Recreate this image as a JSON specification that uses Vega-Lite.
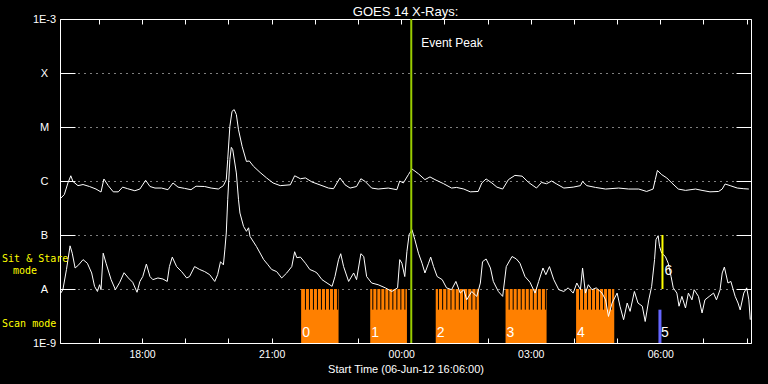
{
  "$schema": "https://vega.github.io/schema/vega-lite/v6.json",
  "width": 691,
  "height": 324,
  "autosize": "none",
  "padding": {"left": 60, "top": 19, "right": 17, "bottom": 41},
  "background": "black",
  "config": {
    "view": {"stroke": "white", "strokeWidth": 1},
    "font": "Liberation Sans"
  },
  "title": {"text": "GOES 14 X-Rays:", "color": "white", "fontSize": 13, "fontWeight": "normal", "font": "Liberation Sans", "offset": -6, "anchor": "middle"},
  "datasets": {
    "flux": [
      {"ch": "long", "t": "2012-06-06T16:07", "f": 4.8e-7},
      {"ch": "long", "t": "2012-06-06T16:12", "f": 5.6e-7},
      {"ch": "long", "t": "2012-06-06T16:17", "f": 9.2e-7},
      {"ch": "long", "t": "2012-06-06T16:21", "f": 1.25e-6},
      {"ch": "long", "t": "2012-06-06T16:24", "f": 9.8e-7},
      {"ch": "long", "t": "2012-06-06T16:31", "f": 8.2e-7},
      {"ch": "long", "t": "2012-06-06T16:38", "f": 8.6e-7},
      {"ch": "long", "t": "2012-06-06T16:47", "f": 7.9e-7},
      {"ch": "long", "t": "2012-06-06T16:56", "f": 7.1e-7},
      {"ch": "long", "t": "2012-06-06T17:03", "f": 6.25e-7},
      {"ch": "long", "t": "2012-06-06T17:07", "f": 1.09e-6},
      {"ch": "long", "t": "2012-06-06T17:13", "f": 8.2e-7},
      {"ch": "long", "t": "2012-06-06T17:20", "f": 6.3e-7},
      {"ch": "long", "t": "2012-06-06T17:27", "f": 6.3e-7},
      {"ch": "long", "t": "2012-06-06T17:33", "f": 7.7e-7},
      {"ch": "long", "t": "2012-06-06T17:40", "f": 7.2e-7},
      {"ch": "long", "t": "2012-06-06T17:50", "f": 6.6e-7},
      {"ch": "long", "t": "2012-06-06T17:57", "f": 7.1e-7},
      {"ch": "long", "t": "2012-06-06T18:05", "f": 1.03e-6},
      {"ch": "long", "t": "2012-06-06T18:11", "f": 7.9e-7},
      {"ch": "long", "t": "2012-06-06T18:18", "f": 7.4e-7},
      {"ch": "long", "t": "2012-06-06T18:27", "f": 7.4e-7},
      {"ch": "long", "t": "2012-06-06T18:36", "f": 6.9e-7},
      {"ch": "long", "t": "2012-06-06T18:43", "f": 9.2e-7},
      {"ch": "long", "t": "2012-06-06T18:50", "f": 7.7e-7},
      {"ch": "long", "t": "2012-06-06T18:59", "f": 7.3e-7},
      {"ch": "long", "t": "2012-06-06T19:08", "f": 6.9e-7},
      {"ch": "long", "t": "2012-06-06T19:15", "f": 8.0e-7},
      {"ch": "long", "t": "2012-06-06T19:27", "f": 7.9e-7},
      {"ch": "long", "t": "2012-06-06T19:36", "f": 7.4e-7},
      {"ch": "long", "t": "2012-06-06T19:46", "f": 7.1e-7},
      {"ch": "long", "t": "2012-06-06T19:53", "f": 8.2e-7},
      {"ch": "long", "t": "2012-06-06T19:57", "f": 1.06e-6},
      {"ch": "long", "t": "2012-06-06T19:59", "f": 2.5e-6},
      {"ch": "long", "t": "2012-06-06T20:02", "f": 1.03e-5},
      {"ch": "long", "t": "2012-06-06T20:05", "f": 1.95e-5},
      {"ch": "long", "t": "2012-06-06T20:08", "f": 2.1e-5},
      {"ch": "long", "t": "2012-06-06T20:11", "f": 1.7e-5},
      {"ch": "long", "t": "2012-06-06T20:14", "f": 8.9e-6},
      {"ch": "long", "t": "2012-06-06T20:19", "f": 4.4e-6},
      {"ch": "long", "t": "2012-06-06T20:25", "f": 2.3e-6},
      {"ch": "long", "t": "2012-06-06T20:29", "f": 2.35e-6},
      {"ch": "long", "t": "2012-06-06T20:35", "f": 1.86e-6},
      {"ch": "long", "t": "2012-06-06T20:44", "f": 1.44e-6},
      {"ch": "long", "t": "2012-06-06T20:53", "f": 1.14e-6},
      {"ch": "long", "t": "2012-06-06T21:02", "f": 9.2e-7},
      {"ch": "long", "t": "2012-06-06T21:12", "f": 8.2e-7},
      {"ch": "long", "t": "2012-06-06T21:26", "f": 8.5e-7},
      {"ch": "long", "t": "2012-06-06T21:32", "f": 1.25e-6},
      {"ch": "long", "t": "2012-06-06T21:40", "f": 1.1e-6},
      {"ch": "long", "t": "2012-06-06T21:47", "f": 1.14e-6},
      {"ch": "long", "t": "2012-06-06T21:56", "f": 9.6e-7},
      {"ch": "long", "t": "2012-06-06T22:10", "f": 8.2e-7},
      {"ch": "long", "t": "2012-06-06T22:19", "f": 7.4e-7},
      {"ch": "long", "t": "2012-06-06T22:26", "f": 7.2e-7},
      {"ch": "long", "t": "2012-06-06T22:35", "f": 1.14e-6},
      {"ch": "long", "t": "2012-06-06T22:42", "f": 8.5e-7},
      {"ch": "long", "t": "2012-06-06T22:49", "f": 7.4e-7},
      {"ch": "long", "t": "2012-06-06T22:58", "f": 7.9e-7},
      {"ch": "long", "t": "2012-06-06T23:04", "f": 1.1e-6},
      {"ch": "long", "t": "2012-06-06T23:10", "f": 9.8e-7},
      {"ch": "long", "t": "2012-06-06T23:19", "f": 7.4e-7},
      {"ch": "long", "t": "2012-06-06T23:28", "f": 7.1e-7},
      {"ch": "long", "t": "2012-06-06T23:42", "f": 7.4e-7},
      {"ch": "long", "t": "2012-06-06T23:54", "f": 6.9e-7},
      {"ch": "long", "t": "2012-06-06T23:58", "f": 1.0e-6},
      {"ch": "long", "t": "2012-06-07T00:03", "f": 9.2e-7},
      {"ch": "long", "t": "2012-06-07T00:10", "f": 1.31e-6},
      {"ch": "long", "t": "2012-06-07T00:15", "f": 1.67e-6},
      {"ch": "long", "t": "2012-06-07T00:24", "f": 1.36e-6},
      {"ch": "long", "t": "2012-06-07T00:33", "f": 1.06e-6},
      {"ch": "long", "t": "2012-06-07T00:40", "f": 1.19e-6},
      {"ch": "long", "t": "2012-06-07T00:47", "f": 1.06e-6},
      {"ch": "long", "t": "2012-06-07T00:59", "f": 8.9e-7},
      {"ch": "long", "t": "2012-06-07T01:10", "f": 7.4e-7},
      {"ch": "long", "t": "2012-06-07T01:17", "f": 7.6e-7},
      {"ch": "long", "t": "2012-06-07T01:27", "f": 7.1e-7},
      {"ch": "long", "t": "2012-06-07T01:36", "f": 6.3e-7},
      {"ch": "long", "t": "2012-06-07T01:47", "f": 6.4e-7},
      {"ch": "long", "t": "2012-06-07T01:52", "f": 9.2e-7},
      {"ch": "long", "t": "2012-06-07T01:58", "f": 1.09e-6},
      {"ch": "long", "t": "2012-06-07T02:06", "f": 9.2e-7},
      {"ch": "long", "t": "2012-06-07T02:13", "f": 7.7e-7},
      {"ch": "long", "t": "2012-06-07T02:21", "f": 7.1e-7},
      {"ch": "long", "t": "2012-06-07T02:29", "f": 1.06e-6},
      {"ch": "long", "t": "2012-06-07T02:38", "f": 1.27e-6},
      {"ch": "long", "t": "2012-06-07T02:48", "f": 1.23e-6},
      {"ch": "long", "t": "2012-06-07T02:57", "f": 9.4e-7},
      {"ch": "long", "t": "2012-06-07T03:08", "f": 7.4e-7},
      {"ch": "long", "t": "2012-06-07T03:15", "f": 9.4e-7},
      {"ch": "long", "t": "2012-06-07T03:22", "f": 8.9e-7},
      {"ch": "long", "t": "2012-06-07T03:29", "f": 1.0e-6},
      {"ch": "long", "t": "2012-06-07T03:36", "f": 8.8e-7},
      {"ch": "long", "t": "2012-06-07T03:46", "f": 7.4e-7},
      {"ch": "long", "t": "2012-06-07T03:59", "f": 7.7e-7},
      {"ch": "long", "t": "2012-06-07T04:09", "f": 8.2e-7},
      {"ch": "long", "t": "2012-06-07T04:12", "f": 9.8e-7},
      {"ch": "long", "t": "2012-06-07T04:18", "f": 8.2e-7},
      {"ch": "long", "t": "2012-06-07T04:30", "f": 7.6e-7},
      {"ch": "long", "t": "2012-06-07T04:44", "f": 7.1e-7},
      {"ch": "long", "t": "2012-06-07T05:02", "f": 7.4e-7},
      {"ch": "long", "t": "2012-06-07T05:16", "f": 7.1e-7},
      {"ch": "long", "t": "2012-06-07T05:30", "f": 7.1e-7},
      {"ch": "long", "t": "2012-06-07T05:41", "f": 6.4e-7},
      {"ch": "long", "t": "2012-06-07T05:50", "f": 7.1e-7},
      {"ch": "long", "t": "2012-06-07T05:53", "f": 1.06e-6},
      {"ch": "long", "t": "2012-06-07T05:56", "f": 1.57e-6},
      {"ch": "long", "t": "2012-06-07T06:02", "f": 1.31e-6},
      {"ch": "long", "t": "2012-06-07T06:09", "f": 1.14e-6},
      {"ch": "long", "t": "2012-06-07T06:16", "f": 9.2e-7},
      {"ch": "long", "t": "2012-06-07T06:25", "f": 7.1e-7},
      {"ch": "long", "t": "2012-06-07T06:35", "f": 6.7e-7},
      {"ch": "long", "t": "2012-06-07T06:49", "f": 7.1e-7},
      {"ch": "long", "t": "2012-06-07T06:58", "f": 6.7e-7},
      {"ch": "long", "t": "2012-06-07T07:09", "f": 6.3e-7},
      {"ch": "long", "t": "2012-06-07T07:21", "f": 6.4e-7},
      {"ch": "long", "t": "2012-06-07T07:26", "f": 7.1e-7},
      {"ch": "long", "t": "2012-06-07T07:30", "f": 8.8e-7},
      {"ch": "long", "t": "2012-06-07T07:37", "f": 8.2e-7},
      {"ch": "long", "t": "2012-06-07T07:47", "f": 7.4e-7},
      {"ch": "long", "t": "2012-06-07T07:56", "f": 7.2e-7},
      {"ch": "long", "t": "2012-06-07T08:03", "f": 7.1e-7},
      {"ch": "short", "t": "2012-06-06T16:07", "f": 8.4e-9},
      {"ch": "short", "t": "2012-06-06T16:10", "f": 9.7e-9},
      {"ch": "short", "t": "2012-06-06T16:15", "f": 2.3e-8},
      {"ch": "short", "t": "2012-06-06T16:20", "f": 6.3e-8},
      {"ch": "short", "t": "2012-06-06T16:23", "f": 4.6e-8},
      {"ch": "short", "t": "2012-06-06T16:27", "f": 2.45e-8},
      {"ch": "short", "t": "2012-06-06T16:32", "f": 2.8e-8},
      {"ch": "short", "t": "2012-06-06T16:38", "f": 3.5e-8},
      {"ch": "short", "t": "2012-06-06T16:44", "f": 3.0e-8},
      {"ch": "short", "t": "2012-06-06T16:50", "f": 1.98e-8},
      {"ch": "short", "t": "2012-06-06T16:54", "f": 1.12e-8},
      {"ch": "short", "t": "2012-06-06T16:58", "f": 9.0e-9},
      {"ch": "short", "t": "2012-06-06T17:01", "f": 1.2e-8},
      {"ch": "short", "t": "2012-06-06T17:03", "f": 9.7e-9},
      {"ch": "short", "t": "2012-06-06T17:06", "f": 4.6e-8},
      {"ch": "short", "t": "2012-06-06T17:10", "f": 3.0e-8},
      {"ch": "short", "t": "2012-06-06T17:17", "f": 1.49e-8},
      {"ch": "short", "t": "2012-06-06T17:23", "f": 9.7e-9},
      {"ch": "short", "t": "2012-06-06T17:29", "f": 1.33e-8},
      {"ch": "short", "t": "2012-06-06T17:35", "f": 2.0e-8},
      {"ch": "short", "t": "2012-06-06T17:41", "f": 1.6e-8},
      {"ch": "short", "t": "2012-06-06T17:47", "f": 1.33e-8},
      {"ch": "short", "t": "2012-06-06T17:53", "f": 8.7e-9},
      {"ch": "short", "t": "2012-06-06T17:57", "f": 1.38e-8},
      {"ch": "short", "t": "2012-06-06T18:01", "f": 1.7e-8},
      {"ch": "short", "t": "2012-06-06T18:06", "f": 2.9e-8},
      {"ch": "short", "t": "2012-06-06T18:11", "f": 1.7e-8},
      {"ch": "short", "t": "2012-06-06T18:15", "f": 1.49e-8},
      {"ch": "short", "t": "2012-06-06T18:22", "f": 1.6e-8},
      {"ch": "short", "t": "2012-06-06T18:29", "f": 1.53e-8},
      {"ch": "short", "t": "2012-06-06T18:35", "f": 1.38e-8},
      {"ch": "short", "t": "2012-06-06T18:38", "f": 2.6e-8},
      {"ch": "short", "t": "2012-06-06T18:42", "f": 3.9e-8},
      {"ch": "short", "t": "2012-06-06T18:48", "f": 2.6e-8},
      {"ch": "short", "t": "2012-06-06T18:55", "f": 2.1e-8},
      {"ch": "short", "t": "2012-06-06T19:02", "f": 1.6e-8},
      {"ch": "short", "t": "2012-06-06T19:06", "f": 1.7e-8},
      {"ch": "short", "t": "2012-06-06T19:13", "f": 2.6e-8},
      {"ch": "short", "t": "2012-06-06T19:20", "f": 2.3e-8},
      {"ch": "short", "t": "2012-06-06T19:27", "f": 2.1e-8},
      {"ch": "short", "t": "2012-06-06T19:34", "f": 1.84e-8},
      {"ch": "short", "t": "2012-06-06T19:41", "f": 1.38e-8},
      {"ch": "short", "t": "2012-06-06T19:45", "f": 1.84e-8},
      {"ch": "short", "t": "2012-06-06T19:49", "f": 3.2e-8},
      {"ch": "short", "t": "2012-06-06T19:53", "f": 2.8e-8},
      {"ch": "short", "t": "2012-06-06T19:55", "f": 5.3e-8},
      {"ch": "short", "t": "2012-06-06T19:57", "f": 1.09e-7},
      {"ch": "short", "t": "2012-06-06T19:59", "f": 4.5e-7},
      {"ch": "short", "t": "2012-06-06T20:02", "f": 2.5e-6},
      {"ch": "short", "t": "2012-06-06T20:04", "f": 4.2e-6},
      {"ch": "short", "t": "2012-06-06T20:06", "f": 3.8e-6},
      {"ch": "short", "t": "2012-06-06T20:11", "f": 1.41e-6},
      {"ch": "short", "t": "2012-06-06T20:14", "f": 4.5e-7},
      {"ch": "short", "t": "2012-06-06T20:16", "f": 2.55e-7},
      {"ch": "short", "t": "2012-06-06T20:21", "f": 1.44e-7},
      {"ch": "short", "t": "2012-06-06T20:25", "f": 1.17e-7},
      {"ch": "short", "t": "2012-06-06T20:28", "f": 1.36e-7},
      {"ch": "short", "t": "2012-06-06T20:30", "f": 9.4e-8},
      {"ch": "short", "t": "2012-06-06T20:39", "f": 6.1e-8},
      {"ch": "short", "t": "2012-06-06T20:49", "f": 3.5e-8},
      {"ch": "short", "t": "2012-06-06T20:55", "f": 2.8e-8},
      {"ch": "short", "t": "2012-06-06T21:00", "f": 2.3e-8},
      {"ch": "short", "t": "2012-06-06T21:07", "f": 2.1e-8},
      {"ch": "short", "t": "2012-06-06T21:14", "f": 1.6e-8},
      {"ch": "short", "t": "2012-06-06T21:21", "f": 1.98e-8},
      {"ch": "short", "t": "2012-06-06T21:28", "f": 2.6e-8},
      {"ch": "short", "t": "2012-06-06T21:32", "f": 4.9e-8},
      {"ch": "short", "t": "2012-06-06T21:35", "f": 3.8e-8},
      {"ch": "short", "t": "2012-06-06T21:40", "f": 3.9e-8},
      {"ch": "short", "t": "2012-06-06T21:47", "f": 3.0e-8},
      {"ch": "short", "t": "2012-06-06T21:53", "f": 2.3e-8},
      {"ch": "short", "t": "2012-06-06T22:00", "f": 2.1e-8},
      {"ch": "short", "t": "2012-06-06T22:03", "f": 1.98e-8},
      {"ch": "short", "t": "2012-06-06T22:10", "f": 1.49e-8},
      {"ch": "short", "t": "2012-06-06T22:17", "f": 1.29e-8},
      {"ch": "short", "t": "2012-06-06T22:24", "f": 1.12e-8},
      {"ch": "short", "t": "2012-06-06T22:28", "f": 1.7e-8},
      {"ch": "short", "t": "2012-06-06T22:33", "f": 3.5e-8},
      {"ch": "short", "t": "2012-06-06T22:36", "f": 4.5e-8},
      {"ch": "short", "t": "2012-06-06T22:40", "f": 2.6e-8},
      {"ch": "short", "t": "2012-06-06T22:47", "f": 1.38e-8},
      {"ch": "short", "t": "2012-06-06T22:54", "f": 1.98e-8},
      {"ch": "short", "t": "2012-06-06T22:58", "f": 1.49e-8},
      {"ch": "short", "t": "2012-06-06T23:04", "f": 4.5e-8},
      {"ch": "short", "t": "2012-06-06T23:08", "f": 4.0e-8},
      {"ch": "short", "t": "2012-06-06T23:12", "f": 1.7e-8},
      {"ch": "short", "t": "2012-06-06T23:19", "f": 1.29e-8},
      {"ch": "short", "t": "2012-06-06T23:28", "f": 1.2e-8},
      {"ch": "short", "t": "2012-06-06T23:38", "f": 1.05e-8},
      {"ch": "short", "t": "2012-06-06T23:47", "f": 9.0e-9},
      {"ch": "short", "t": "2012-06-06T23:55", "f": 1.05e-8},
      {"ch": "short", "t": "2012-06-06T23:58", "f": 3.5e-8},
      {"ch": "short", "t": "2012-06-07T00:01", "f": 3.0e-8},
      {"ch": "short", "t": "2012-06-07T00:05", "f": 1.7e-8},
      {"ch": "short", "t": "2012-06-07T00:08", "f": 5.0e-8},
      {"ch": "short", "t": "2012-06-07T00:11", "f": 1.01e-7},
      {"ch": "short", "t": "2012-06-07T00:15", "f": 1.25e-7},
      {"ch": "short", "t": "2012-06-07T00:19", "f": 8.2e-8},
      {"ch": "short", "t": "2012-06-07T00:24", "f": 4.6e-8},
      {"ch": "short", "t": "2012-06-07T00:29", "f": 3.0e-8},
      {"ch": "short", "t": "2012-06-07T00:33", "f": 1.98e-8},
      {"ch": "short", "t": "2012-06-07T00:38", "f": 3.0e-8},
      {"ch": "short", "t": "2012-06-07T00:41", "f": 3.9e-8},
      {"ch": "short", "t": "2012-06-07T00:45", "f": 2.6e-8},
      {"ch": "short", "t": "2012-06-07T00:50", "f": 1.7e-8},
      {"ch": "short", "t": "2012-06-07T00:57", "f": 1.49e-8},
      {"ch": "short", "t": "2012-06-07T01:03", "f": 1.05e-8},
      {"ch": "short", "t": "2012-06-07T01:10", "f": 9.7e-9},
      {"ch": "short", "t": "2012-06-07T01:16", "f": 1.38e-8},
      {"ch": "short", "t": "2012-06-07T01:22", "f": 8.4e-9},
      {"ch": "short", "t": "2012-06-07T01:27", "f": 9.7e-9},
      {"ch": "short", "t": "2012-06-07T01:31", "f": 6.3e-9},
      {"ch": "short", "t": "2012-06-07T01:38", "f": 9.0e-9},
      {"ch": "short", "t": "2012-06-07T01:45", "f": 7.3e-9},
      {"ch": "short", "t": "2012-06-07T01:50", "f": 1.29e-8},
      {"ch": "short", "t": "2012-06-07T01:53", "f": 3.2e-8},
      {"ch": "short", "t": "2012-06-07T01:58", "f": 3.6e-8},
      {"ch": "short", "t": "2012-06-07T02:04", "f": 2.45e-8},
      {"ch": "short", "t": "2012-06-07T02:08", "f": 1.38e-8},
      {"ch": "short", "t": "2012-06-07T02:15", "f": 9.0e-9},
      {"ch": "short", "t": "2012-06-07T02:21", "f": 7.3e-9},
      {"ch": "short", "t": "2012-06-07T02:26", "f": 2.6e-8},
      {"ch": "short", "t": "2012-06-07T02:34", "f": 4.0e-8},
      {"ch": "short", "t": "2012-06-07T02:40", "f": 3.6e-8},
      {"ch": "short", "t": "2012-06-07T02:45", "f": 3.0e-8},
      {"ch": "short", "t": "2012-06-07T02:52", "f": 1.7e-8},
      {"ch": "short", "t": "2012-06-07T02:59", "f": 1.33e-8},
      {"ch": "short", "t": "2012-06-07T03:06", "f": 8.4e-9},
      {"ch": "short", "t": "2012-06-07T03:11", "f": 1.38e-8},
      {"ch": "short", "t": "2012-06-07T03:17", "f": 2.45e-8},
      {"ch": "short", "t": "2012-06-07T03:21", "f": 1.84e-8},
      {"ch": "short", "t": "2012-06-07T03:26", "f": 2.6e-8},
      {"ch": "short", "t": "2012-06-07T03:32", "f": 1.49e-8},
      {"ch": "short", "t": "2012-06-07T03:39", "f": 9.7e-9},
      {"ch": "short", "t": "2012-06-07T03:46", "f": 9.0e-9},
      {"ch": "short", "t": "2012-06-07T03:52", "f": 1.05e-8},
      {"ch": "short", "t": "2012-06-07T03:59", "f": 8.4e-9},
      {"ch": "short", "t": "2012-06-07T04:04", "f": 1.29e-8},
      {"ch": "short", "t": "2012-06-07T04:09", "f": 9.7e-9},
      {"ch": "short", "t": "2012-06-07T04:12", "f": 2.45e-8},
      {"ch": "short", "t": "2012-06-07T04:16", "f": 8.4e-9},
      {"ch": "short", "t": "2012-06-07T04:20", "f": 1.2e-8},
      {"ch": "short", "t": "2012-06-07T04:25", "f": 9.7e-9},
      {"ch": "short", "t": "2012-06-07T04:31", "f": 1.05e-8},
      {"ch": "short", "t": "2012-06-07T04:39", "f": 8.4e-9},
      {"ch": "short", "t": "2012-06-07T04:44", "f": 6.3e-9},
      {"ch": "short", "t": "2012-06-07T04:48", "f": 3.1e-9},
      {"ch": "short", "t": "2012-06-07T04:53", "f": 5.5e-9},
      {"ch": "short", "t": "2012-06-07T05:00", "f": 8.4e-9},
      {"ch": "short", "t": "2012-06-07T05:04", "f": 4.8e-9},
      {"ch": "short", "t": "2012-06-07T05:09", "f": 2.7e-9},
      {"ch": "short", "t": "2012-06-07T05:14", "f": 5.5e-9},
      {"ch": "short", "t": "2012-06-07T05:18", "f": 3.85e-9},
      {"ch": "short", "t": "2012-06-07T05:24", "f": 9.0e-9},
      {"ch": "short", "t": "2012-06-07T05:29", "f": 5.5e-9},
      {"ch": "short", "t": "2012-06-07T05:35", "f": 4.8e-9},
      {"ch": "short", "t": "2012-06-07T05:39", "f": 2.5e-9},
      {"ch": "short", "t": "2012-06-07T05:44", "f": 6.3e-9},
      {"ch": "short", "t": "2012-06-07T05:48", "f": 1.12e-8},
      {"ch": "short", "t": "2012-06-07T05:52", "f": 3.5e-8},
      {"ch": "short", "t": "2012-06-07T05:54", "f": 8.2e-8},
      {"ch": "short", "t": "2012-06-07T05:57", "f": 9.7e-8},
      {"ch": "short", "t": "2012-06-07T05:59", "f": 6.1e-8},
      {"ch": "short", "t": "2012-06-07T06:02", "f": 4.6e-8},
      {"ch": "short", "t": "2012-06-07T06:07", "f": 4.0e-8},
      {"ch": "short", "t": "2012-06-07T06:11", "f": 3.0e-8},
      {"ch": "short", "t": "2012-06-07T06:15", "f": 1.7e-8},
      {"ch": "short", "t": "2012-06-07T06:18", "f": 1.05e-8},
      {"ch": "short", "t": "2012-06-07T06:23", "f": 8.4e-9},
      {"ch": "short", "t": "2012-06-07T06:26", "f": 4.8e-9},
      {"ch": "short", "t": "2012-06-07T06:30", "f": 7.3e-9},
      {"ch": "short", "t": "2012-06-07T06:35", "f": 4.45e-9},
      {"ch": "short", "t": "2012-06-07T06:39", "f": 8.4e-9},
      {"ch": "short", "t": "2012-06-07T06:44", "f": 6.3e-9},
      {"ch": "short", "t": "2012-06-07T06:47", "f": 9.7e-9},
      {"ch": "short", "t": "2012-06-07T06:53", "f": 7.3e-9},
      {"ch": "short", "t": "2012-06-07T06:58", "f": 3.6e-9},
      {"ch": "short", "t": "2012-06-07T07:02", "f": 6.3e-9},
      {"ch": "short", "t": "2012-06-07T07:08", "f": 7.3e-9},
      {"ch": "short", "t": "2012-06-07T07:14", "f": 8.4e-9},
      {"ch": "short", "t": "2012-06-07T07:18", "f": 6.3e-9},
      {"ch": "short", "t": "2012-06-07T07:23", "f": 9.7e-9},
      {"ch": "short", "t": "2012-06-07T07:26", "f": 1.98e-8},
      {"ch": "short", "t": "2012-06-07T07:29", "f": 2.55e-8},
      {"ch": "short", "t": "2012-06-07T07:34", "f": 1.29e-8},
      {"ch": "short", "t": "2012-06-07T07:38", "f": 1.38e-8},
      {"ch": "short", "t": "2012-06-07T07:44", "f": 7.3e-9},
      {"ch": "short", "t": "2012-06-07T07:48", "f": 5.5e-9},
      {"ch": "short", "t": "2012-06-07T07:51", "f": 4.1e-9},
      {"ch": "short", "t": "2012-06-07T07:56", "f": 8.4e-9},
      {"ch": "short", "t": "2012-06-07T08:00", "f": 1.05e-8},
      {"ch": "short", "t": "2012-06-07T08:03", "f": 6.3e-9},
      {"ch": "short", "t": "2012-06-07T08:05", "f": 2.7e-9}
    ],
    "blocks": [
      {"block": "0", "start": "2012-06-06T21:41", "end": "2012-06-06T22:33"},
      {"block": "1", "start": "2012-06-06T23:17", "end": "2012-06-07T00:08"},
      {"block": "2", "start": "2012-06-07T00:48", "end": "2012-06-07T01:48"},
      {"block": "3", "start": "2012-06-07T02:25", "end": "2012-06-07T03:22"},
      {"block": "4", "start": "2012-06-07T04:03", "end": "2012-06-07T04:56"}
    ],
    "gaps": [
      {"t": "2012-06-06T21:47:00"}, {"t": "2012-06-06T21:52:34"}, {"t": "2012-06-06T21:58:07"},
      {"t": "2012-06-06T22:03:41"}, {"t": "2012-06-06T22:09:14"}, {"t": "2012-06-06T22:14:48"},
      {"t": "2012-06-06T22:20:22"}, {"t": "2012-06-06T22:25:55"}, {"t": "2012-06-06T22:31:29"},
      {"t": "2012-06-06T23:20:36"}, {"t": "2012-06-06T23:26:10"}, {"t": "2012-06-06T23:31:44"},
      {"t": "2012-06-06T23:37:18"}, {"t": "2012-06-06T23:42:52"}, {"t": "2012-06-06T23:48:26"},
      {"t": "2012-06-06T23:54:00"}, {"t": "2012-06-06T23:59:34"}, {"t": "2012-06-07T00:05:08"},
      {"t": "2012-06-07T00:51:48"}, {"t": "2012-06-07T00:57:36"}, {"t": "2012-06-07T01:03:24"},
      {"t": "2012-06-07T01:09:12"}, {"t": "2012-06-07T01:15:00"}, {"t": "2012-06-07T01:20:48"},
      {"t": "2012-06-07T01:26:36"}, {"t": "2012-06-07T01:32:24"}, {"t": "2012-06-07T01:38:12"},
      {"t": "2012-06-07T01:44:00"},
      {"t": "2012-06-07T02:30:00"}, {"t": "2012-06-07T02:35:36"}, {"t": "2012-06-07T02:41:12"},
      {"t": "2012-06-07T02:46:48"}, {"t": "2012-06-07T02:52:24"}, {"t": "2012-06-07T02:58:00"},
      {"t": "2012-06-07T03:03:36"}, {"t": "2012-06-07T03:09:12"}, {"t": "2012-06-07T03:14:48"},
      {"t": "2012-06-07T03:20:24"},
      {"t": "2012-06-07T04:07:48"}, {"t": "2012-06-07T04:13:22"}, {"t": "2012-06-07T04:18:55"},
      {"t": "2012-06-07T04:24:29"}, {"t": "2012-06-07T04:30:02"}, {"t": "2012-06-07T04:35:36"},
      {"t": "2012-06-07T04:41:10"}, {"t": "2012-06-07T04:46:43"}, {"t": "2012-06-07T04:52:17"}
    ]
  },
  "layer": [
    {
      "data": {"name": "blocks"},
      "mark": {"type": "rect", "color": "#FF8000"},
      "encoding": {
        "x": {"field": "start", "type": "temporal",
              "scale": {"domain": [{"year": 2012, "month": 6, "date": 6, "hours": 16, "minutes": 6}, {"year": 2012, "month": 6, "date": 7, "hours": 8, "minutes": 6}]},
              "axis": {"orient": "top", "labels": false, "title": null, "grid": false, "domain": false,
                       "values": [
                         {"year": 2012, "month": 6, "date": 6, "hours": 17}, {"year": 2012, "month": 6, "date": 6, "hours": 18},
                         {"year": 2012, "month": 6, "date": 6, "hours": 19}, {"year": 2012, "month": 6, "date": 6, "hours": 20},
                         {"year": 2012, "month": 6, "date": 6, "hours": 21}, {"year": 2012, "month": 6, "date": 6, "hours": 22},
                         {"year": 2012, "month": 6, "date": 6, "hours": 23}, {"year": 2012, "month": 6, "date": 7, "hours": 0},
                         {"year": 2012, "month": 6, "date": 7, "hours": 1}, {"year": 2012, "month": 6, "date": 7, "hours": 2},
                         {"year": 2012, "month": 6, "date": 7, "hours": 3}, {"year": 2012, "month": 6, "date": 7, "hours": 4},
                         {"year": 2012, "month": 6, "date": 7, "hours": 5}, {"year": 2012, "month": 6, "date": 7, "hours": 6},
                         {"year": 2012, "month": 6, "date": 7, "hours": 7}, {"year": 2012, "month": 6, "date": 7, "hours": 8}
                       ],
                       "offset": -5, "tickSize": 5, "tickColor": "white"}},
        "x2": {"field": "end"},
        "y": {"datum": 1e-8, "type": "quantitative",
              "scale": {"type": "log", "domain": [1e-9, 1e-3]},
              "axis": {"orient": "right", "labels": false, "title": null, "grid": false, "domain": false,
                       "values": [1e-8, 1e-7, 1e-6, 1e-5, 1e-4],
                       "offset": -15, "tickSize": 15, "tickColor": "white"}},
        "y2": {"datum": 1e-9}
      }
    },
    {
      "data": {"name": "gaps"},
      "mark": {"type": "rule", "color": "black", "strokeWidth": 1},
      "encoding": {
        "x": {"field": "t", "type": "temporal", "axis": null},
        "y": {"datum": 1e-8, "type": "quantitative", "axis": null},
        "y2": {"datum": 4.14e-9}
      }
    },
    {
      "data": {"name": "blocks"},
      "mark": {"type": "text", "color": "white", "fontSize": 14, "align": "left", "baseline": "middle", "dx": 1, "font": "Liberation Sans"},
      "encoding": {
        "x": {"field": "start", "type": "temporal", "axis": null},
        "y": {"datum": 1.55e-9, "type": "quantitative", "axis": null},
        "text": {"field": "block"}
      }
    },
    {
      "data": {"values": [{"id": "5", "t": "2012-06-07T05:59:30"}]},
      "layer": [
        {"mark": {"type": "rule", "color": "#6666FF", "strokeWidth": 3},
         "encoding": {"x": {"field": "t", "type": "temporal", "axis": null},
                      "y": {"datum": 4.14e-9, "type": "quantitative", "axis": null},
                      "y2": {"datum": 1e-9}}},
        {"mark": {"type": "text", "color": "white", "fontSize": 14, "align": "left", "baseline": "middle", "dx": 1, "font": "Liberation Sans"},
         "encoding": {"x": {"field": "t", "type": "temporal", "axis": null},
                      "y": {"datum": 1.55e-9, "type": "quantitative", "axis": null},
                      "text": {"field": "id"}}}
      ]
    },
    {
      "data": {"name": "flux"},
      "mark": {"type": "line", "color": "white", "strokeWidth": 1},
      "encoding": {
        "x": {"field": "t", "type": "temporal",
              "axis": {"orient": "bottom", "title": "Start Time (06-Jun-12 16:06:00)",
                       "titleColor": "white", "titleFont": "Liberation Sans", "titleFontSize": 11, "titleFontWeight": "normal", "titlePadding": 4,
                       "values": [
                         {"year": 2012, "month": 6, "date": 6, "hours": 17}, {"year": 2012, "month": 6, "date": 6, "hours": 18},
                         {"year": 2012, "month": 6, "date": 6, "hours": 19}, {"year": 2012, "month": 6, "date": 6, "hours": 20},
                         {"year": 2012, "month": 6, "date": 6, "hours": 21}, {"year": 2012, "month": 6, "date": 6, "hours": 22},
                         {"year": 2012, "month": 6, "date": 6, "hours": 23}, {"year": 2012, "month": 6, "date": 7, "hours": 0},
                         {"year": 2012, "month": 6, "date": 7, "hours": 1}, {"year": 2012, "month": 6, "date": 7, "hours": 2},
                         {"year": 2012, "month": 6, "date": 7, "hours": 3}, {"year": 2012, "month": 6, "date": 7, "hours": 4},
                         {"year": 2012, "month": 6, "date": 7, "hours": 5}, {"year": 2012, "month": 6, "date": 7, "hours": 6},
                         {"year": 2012, "month": 6, "date": 7, "hours": 7}, {"year": 2012, "month": 6, "date": 7, "hours": 8}
                       ],
                       "labelExpr": "hours(datum.value) % 3 == 0 ? timeFormat(datum.value, '%H:%M') : ''",
                       "offset": -5, "tickSize": 5, "domain": false,
                       "tickColor": "white", "labelColor": "white", "labelFont": "Liberation Sans",
                       "labelFontSize": 10.5, "labelPadding": 6, "grid": false, "labelFlush": false, "labelOverlap": false}},
        "y": {"field": "f", "type": "quantitative",
              "axis": {"orient": "left", "title": null,
                       "values": [1e-9, 1e-8, 1e-7, 1e-6, 1e-5, 1e-4, 1e-3],
                       "labelExpr": "datum.value < 3e-9 ? '1E-9' : datum.value < 3e-8 ? 'A' : datum.value < 3e-7 ? 'B' : datum.value < 3e-6 ? 'C' : datum.value < 3e-5 ? 'M' : datum.value < 3e-4 ? 'X' : '1E-3'",
                       "offset": -15, "tickSize": 15, "labelPadding": 16, "labelAlign": "center", "labelBaseline": "middle", "domain": false,
                       "grid": true, "gridColor": "white", "gridDash": [1, 5], "gridWidth": 1,
                       "tickColor": "white", "labelColor": "white", "labelFont": "Liberation Sans",
                       "labelFontSize": 11, "labelFlush": false, "labelOverlap": false}},
        "detail": {"field": "ch"}
      }
    },
    {
      "data": {"values": [{"id": "6", "t": "2012-06-07T06:03"}]},
      "layer": [
        {"mark": {"type": "rule", "color": "#FFFF00", "strokeWidth": 2},
         "encoding": {"x": {"field": "t", "type": "temporal", "axis": null},
                      "y": {"datum": 1e-7, "type": "quantitative", "axis": null},
                      "y2": {"datum": 1e-8}}},
        {"mark": {"type": "text", "color": "white", "fontSize": 14, "align": "left", "baseline": "middle", "dx": 2, "font": "Liberation Sans"},
         "encoding": {"x": {"field": "t", "type": "temporal", "axis": null},
                      "y": {"datum": 2.15e-8, "type": "quantitative", "axis": null},
                      "text": {"field": "id"}}}
      ]
    },
    {
      "data": {"values": [{"label": "Event Peak", "t": "2012-06-07T00:14"}]},
      "layer": [
        {"mark": {"type": "rule", "color": "#99CC00", "strokeWidth": 2},
         "encoding": {"x": {"field": "t", "type": "temporal", "axis": null}}},
        {"mark": {"type": "text", "color": "white", "fontSize": 12, "align": "left", "baseline": "middle", "dx": 10, "font": "Liberation Sans"},
         "encoding": {"x": {"field": "t", "type": "temporal", "axis": null},
                      "y": {"datum": 3.64e-4, "type": "quantitative", "axis": null},
                      "text": {"field": "label"}}}
      ]
    },
    {
      "data": {"values": [{"label": "Sit & Stare"}]},
      "mark": {"type": "text", "color": "#FFFF00", "fontSize": 10, "font": "DejaVu Sans Mono", "align": "left", "baseline": "middle"},
      "encoding": {
        "x": {"datum": {"year": 2012, "month": 6, "date": 6, "hours": 14, "minutes": 45, "seconds": 30}, "type": "temporal", "axis": null},
        "y": {"datum": 3.64e-8, "type": "quantitative", "axis": null},
        "text": {"field": "label"}
      }
    },
    {
      "data": {"values": [{"label": "mode"}]},
      "mark": {"type": "text", "color": "#FFFF00", "fontSize": 10, "font": "DejaVu Sans Mono", "align": "left", "baseline": "middle", "dx": 11},
      "encoding": {
        "x": {"datum": {"year": 2012, "month": 6, "date": 6, "hours": 14, "minutes": 45, "seconds": 30}, "type": "temporal", "axis": null},
        "y": {"datum": 2.18e-8, "type": "quantitative", "axis": null},
        "text": {"field": "label"}
      }
    },
    {
      "data": {"values": [{"label": "Scan mode"}]},
      "mark": {"type": "text", "color": "#FFFF00", "fontSize": 10, "font": "DejaVu Sans Mono", "align": "left", "baseline": "middle"},
      "encoding": {
        "x": {"datum": {"year": 2012, "month": 6, "date": 6, "hours": 14, "minutes": 45, "seconds": 30}, "type": "temporal", "axis": null},
        "y": {"datum": 2.28e-9, "type": "quantitative", "axis": null},
        "text": {"field": "label"}
      }
    }
  ],
  "resolve": {"axis": {"x": "independent", "y": "independent"}}
}
